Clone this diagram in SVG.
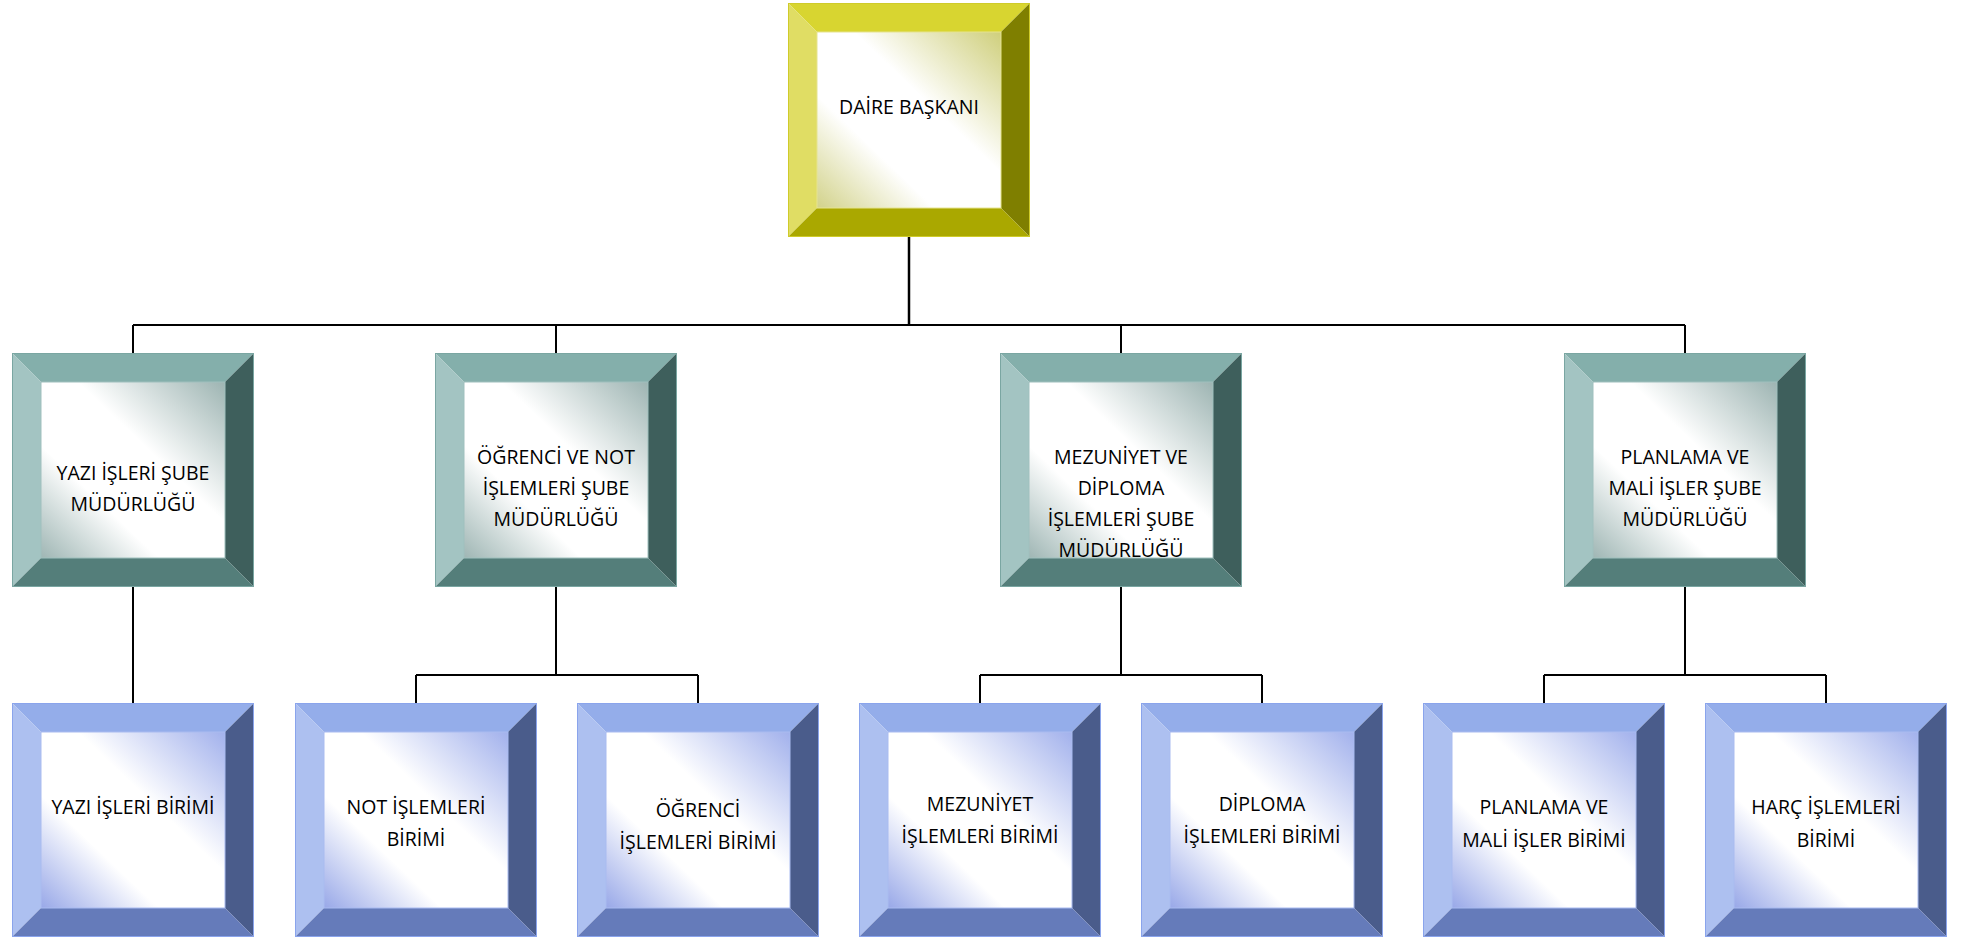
<svg xmlns="http://www.w3.org/2000/svg" xmlns:xlink="http://www.w3.org/1999/xlink" width="1963" height="938" viewBox="0 0 1963 938">
<style>
  .lbl { font-family: "Open Sans", "Noto Sans", "DejaVu Sans", sans-serif; font-size: 19.5px; fill: #000; text-anchor: middle; }
  .conn { stroke: #000; stroke-width: 2; fill: none; }
</style>
<defs>
  <linearGradient id="gY" x1="0" y1="1" x2="1" y2="0">
    <stop offset="0" stop-color="#d2d28a"/>
    <stop offset="0.32" stop-color="#ffffff"/>
    <stop offset="0.6" stop-color="#ffffff"/>
    <stop offset="1" stop-color="#cfcf7c"/>
  </linearGradient>
  <linearGradient id="gT" x1="0" y1="1" x2="1" y2="0">
    <stop offset="0" stop-color="#9fb6b4"/>
    <stop offset="0.32" stop-color="#ffffff"/>
    <stop offset="0.6" stop-color="#ffffff"/>
    <stop offset="1" stop-color="#9db4b2"/>
  </linearGradient>
  <linearGradient id="gB" x1="0" y1="1" x2="1" y2="0">
    <stop offset="0" stop-color="#98a8e8"/>
    <stop offset="0.32" stop-color="#ffffff"/>
    <stop offset="0.6" stop-color="#ffffff"/>
    <stop offset="1" stop-color="#a2b1ec"/>
  </linearGradient>
  <clipPath id="innerClip"><rect x="29" y="29" width="184" height="176"/></clipPath>
  <g id="bevY">
    <rect x="29" y="29" width="184" height="176" fill="url(#gY)"/>
    <polygon points="0,0 242,0 213,29 29,29" fill="#d8d530"/>
    <polygon points="0,0 29,29 29,205 0,234" fill="#e0dd64"/>
    <polygon points="242,0 242,234 213,205 213,29" fill="#7f7f00"/>
    <polygon points="0,234 29,205 213,205 242,234" fill="#aaa800"/>
    <rect x="0.5" y="0.5" width="241" height="233" fill="none" stroke="#cfcb2a" stroke-width="1"/>
    <rect x="29" y="29" width="184" height="176" fill="none" stroke="#e6e490" stroke-width="1"/>
  </g>
  <g id="bevT">
    <rect x="29" y="29" width="184" height="176" fill="url(#gT)"/>
    <polygon points="0,0 242,0 213,29 29,29" fill="#84afab"/>
    <polygon points="0,0 29,29 29,205 0,234" fill="#a3c4c2"/>
    <polygon points="242,0 242,234 213,205 213,29" fill="#3e5f5c"/>
    <polygon points="0,234 29,205 213,205 242,234" fill="#547e7a"/>
    <rect x="0.5" y="0.5" width="241" height="233" fill="none" stroke="#7aa6a2" stroke-width="1"/>
    <rect x="29" y="29" width="184" height="176" fill="none" stroke="#9fc0bd" stroke-width="1"/>
  </g>
  <g id="bevB">
    <rect x="29" y="29" width="184" height="176" fill="url(#gB)"/>
    <polygon points="0,0 242,0 213,29 29,29" fill="#94adea"/>
    <polygon points="0,0 29,29 29,205 0,234" fill="#adc0f0"/>
    <polygon points="242,0 242,234 213,205 213,29" fill="#4a5c8b"/>
    <polygon points="0,234 29,205 213,205 242,234" fill="#657bba"/>
    <rect x="0.5" y="0.5" width="241" height="233" fill="none" stroke="#8aa4ec" stroke-width="1"/>
    <rect x="29" y="29" width="184" height="176" fill="none" stroke="#a9bbf0" stroke-width="1"/>
  </g>
</defs>
<rect width="1963" height="938" fill="#ffffff"/>

<g id="connectors">
  <path class="conn" d="M909,237 V325" style="stroke-width:2.5"/>
  <path class="conn" d="M133,325 H1685"/>
  <path class="conn" d="M133,325 V353 M556,325 V353 M1121,325 V353 M1685,325 V353"/>
  <path class="conn" d="M133,587 V703"/>
  <path class="conn" d="M556,587 V675 M416,675 H698 M416,675 V703 M698,675 V703"/>
  <path class="conn" d="M1121,587 V675 M980,675 H1262 M980,675 V703 M1262,675 V703"/>
  <path class="conn" d="M1685,587 V675 M1544,675 H1826 M1544,675 V703 M1826,675 V703"/>
</g>

<g id="node-daire" transform="translate(788,3)">
  <use xlink:href="#bevY"/>
  <text class="lbl" x="121" y="111">DAİRE BAŞKANI</text>
</g>

<g id="node-yazi-sube" transform="translate(12,353)">
  <use xlink:href="#bevT"/>
  <text class="lbl" x="121"><tspan x="121" y="127">YAZI İŞLERİ ŞUBE</tspan><tspan x="121" y="158">MÜDÜRLÜĞÜ</tspan></text>
</g>

<g id="node-ogrenci-sube" transform="translate(435,353)">
  <use xlink:href="#bevT"/>
  <text class="lbl" x="121"><tspan x="121" y="111">ÖĞRENCİ VE NOT</tspan><tspan x="121" y="142">İŞLEMLERİ ŞUBE</tspan><tspan x="121" y="173">MÜDÜRLÜĞÜ</tspan></text>
</g>

<g id="node-mezuniyet-sube" transform="translate(1000,353)">
  <use xlink:href="#bevT"/>
  <text class="lbl" x="121" clip-path="url(#innerClip)"><tspan x="121" y="111">MEZUNİYET VE</tspan><tspan x="121" y="142">DİPLOMA</tspan><tspan x="121" y="173">İŞLEMLERİ ŞUBE</tspan><tspan x="121" y="204">MÜDÜRLÜĞÜ</tspan></text>
</g>

<g id="node-planlama-sube" transform="translate(1564,353)">
  <use xlink:href="#bevT"/>
  <text class="lbl" x="121"><tspan x="121" y="111">PLANLAMA VE</tspan><tspan x="121" y="142">MALİ İŞLER ŞUBE</tspan><tspan x="121" y="173">MÜDÜRLÜĞÜ</tspan></text>
</g>

<g id="node-yazi-birim" transform="translate(12,703)">
  <use xlink:href="#bevB"/>
  <text class="lbl" x="121" y="111">YAZI İŞLERİ BİRİMİ</text>
</g>

<g id="node-not-birim" transform="translate(295,703)">
  <use xlink:href="#bevB"/>
  <text class="lbl" x="121"><tspan x="121" y="111">NOT İŞLEMLERİ</tspan><tspan x="121" y="143">BİRİMİ</tspan></text>
</g>

<g id="node-ogrenci-birim" transform="translate(577,703)">
  <use xlink:href="#bevB"/>
  <text class="lbl" x="121"><tspan x="121" y="114">ÖĞRENCİ</tspan><tspan x="121" y="146">İŞLEMLERİ BİRİMİ</tspan></text>
</g>

<g id="node-mezuniyet-birim" transform="translate(859,703)">
  <use xlink:href="#bevB"/>
  <text class="lbl" x="121"><tspan x="121" y="108">MEZUNİYET</tspan><tspan x="121" y="140">İŞLEMLERİ BİRİMİ</tspan></text>
</g>

<g id="node-diploma-birim" transform="translate(1141,703)">
  <use xlink:href="#bevB"/>
  <text class="lbl" x="121"><tspan x="121" y="108">DİPLOMA</tspan><tspan x="121" y="140">İŞLEMLERİ BİRİMİ</tspan></text>
</g>

<g id="node-planlama-birim" transform="translate(1423,703)">
  <use xlink:href="#bevB"/>
  <text class="lbl" x="121"><tspan x="121" y="111">PLANLAMA VE</tspan><tspan x="121" y="144">MALİ İŞLER BİRİMİ</tspan></text>
</g>

<g id="node-harc-birim" transform="translate(1705,703)">
  <use xlink:href="#bevB"/>
  <text class="lbl" x="121"><tspan x="121" y="111">HARÇ İŞLEMLERİ</tspan><tspan x="121" y="144">BİRİMİ</tspan></text>
</g>
</svg>
